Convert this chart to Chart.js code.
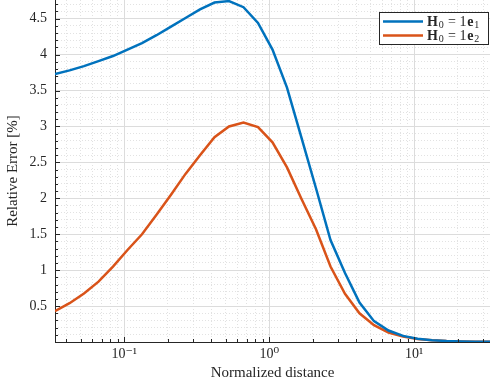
<!DOCTYPE html>
<html>
<head>
<meta charset="utf-8">
<script src="https://cdn.jsdelivr.net/npm/chart.js@4"></script>
<style>
  html, body { margin: 0; padding: 0; background: #fff; }
  #errChart { display: block; }
</style>
</head>
<body>
<canvas id="errChart" width="490" height="385"></canvas>
<script>
// distancias normalizadas (pontos da simulacao)
const distancias = [0.0333, 0.0420, 0.0528, 0.0665, 0.0837, 0.1054, 0.1327, 0.1671, 0.2103, 0.2648,
    0.3333, 0.4196, 0.5283, 0.6651, 0.8373, 1.0541, 1.327, 1.671, 2.103, 2.648,
    3.333, 4.196, 5.283, 6.651, 8.373, 10.54, 13.27, 16.71, 21.03, 26.48, 33.33];

const erroE1 = [3.73, 3.78, 3.84, 3.91, 3.98, 4.07, 4.16, 4.27, 4.39, 4.51,
    4.63, 4.725, 4.745, 4.66, 4.44, 4.07, 3.54, 2.84, 2.14, 1.42,
    0.96, 0.55, 0.29, 0.16, 0.085, 0.045, 0.025, 0.014, 0.008, 0.005, 0.003];

const erroE2 = [0.43, 0.54, 0.675, 0.84, 1.05, 1.28, 1.50, 1.77, 2.05, 2.34,
    2.60, 2.85, 3.00, 3.055, 2.99, 2.78, 2.43, 1.99, 1.57, 1.05,
    0.67, 0.40, 0.235, 0.13, 0.075, 0.042, 0.025, 0.014, 0.008, 0.005, 0.003];

const xTicks = [0.1, 1, 10];
const xTickLabels = ['10\u207B\u00B9', '10\u2070', '10\u00B9'];
const xMinorTicks = [0.04, 0.05, 0.06, 0.07, 0.08, 0.09, 0.2, 0.3, 0.4, 0.5, 0.6, 0.7, 0.8, 0.9,
    2, 3, 4, 5, 6, 7, 8, 9, 20, 30];
const yTicks = [0.5, 1, 1.5, 2, 2.5, 3, 3.5, 4, 4.5];
const yTickLabels = ['0.5', '1', '1.5', '2', '2.5', '3', '3.5', '4', '4.5'];
const yMinorTicks = [0.1, 0.2, 0.3, 0.4, 0.6, 0.7, 0.8, 0.9, 1.1, 1.2, 1.3, 1.4, 1.6, 1.7, 1.8, 1.9,
    2.1, 2.2, 2.3, 2.4, 2.6, 2.7, 2.8, 2.9, 3.1, 3.2, 3.3, 3.4, 3.6, 3.7, 3.8, 3.9,
    4.1, 4.2, 4.3, 4.4, 4.6, 4.7];

const corAzul = '#0072BD';
const corLaranja = '#D95319';
const corTexto = '#262626';
const fonteSerif = '"Liberation Serif", "DejaVu Serif", serif';

function setTicks(lista) {
    return function (scale) {
        scale.ticks = lista.map(v => ({ value: v }));
    };
}

// ticks para dentro, estilo matlab
const ticksInternos = {
    id: 'ticksInternos',
    afterDatasetsDraw(chart) {
        const ctx = chart.ctx;
        const area = chart.chartArea;
        const sx = chart.scales.x, sy = chart.scales.y;
        ctx.save();
        ctx.strokeStyle = corTexto;
        ctx.lineWidth = 1;
        ctx.beginPath();
        xTicks.forEach(v => {
            const px = Math.round(sx.getPixelForValue(v)) + 0.5;
            ctx.moveTo(px, area.bottom); ctx.lineTo(px, area.bottom - 5);
        });
        xMinorTicks.forEach(v => {
            const px = Math.round(sx.getPixelForValue(v)) + 0.5;
            ctx.moveTo(px, area.bottom); ctx.lineTo(px, area.bottom - 3);
        });
        yTicks.forEach(v => {
            const py = Math.round(sy.getPixelForValue(v)) + 0.5;
            ctx.moveTo(area.left, py); ctx.lineTo(area.left + 5, py);
        });
        yMinorTicks.forEach(v => {
            const py = Math.round(sy.getPixelForValue(v)) + 0.5;
            ctx.moveTo(area.left, py); ctx.lineTo(area.left + 3, py);
        });
        ctx.stroke();
        ctx.restore();
    }
};

// legenda com subscritos
const legendaLatex = {
    id: 'legendaLatex',
    afterDraw(chart) {
        const ctx = chart.ctx;
        const area = chart.chartArea;
        const x0 = area.right - 111, y0 = area.top + 12, w = 110, h = 33;
        ctx.save();
        ctx.fillStyle = '#fff';
        ctx.fillRect(x0, y0, w, h);
        ctx.strokeStyle = corTexto;
        ctx.lineWidth = 1;
        ctx.strokeRect(x0 + 0.5, y0 + 0.5, w - 1, h - 1);

        chart.data.datasets.forEach((ds, i) => {
            const yl = y0 + 9.5 + i * 14;
            ctx.strokeStyle = ds.borderColor;
            ctx.lineWidth = 2.5;
            ctx.beginPath();
            ctx.moveTo(x0 + 4, yl);
            ctx.lineTo(x0 + 44, yl);
            ctx.stroke();

            let tx = x0 + 48;
            const base = yl + 4.5;
            ctx.fillStyle = corTexto;
            ctx.textBaseline = 'alphabetic';
            ctx.textAlign = 'left';
            const pedacos = [
                { t: 'H', f: 'bold 14px ' + fonteSerif, dy: 0 },
                { t: '0', f: '10px ' + fonteSerif, dy: 2 },
                { t: ' = 1', f: '14px ' + fonteSerif, dy: 0 },
                { t: 'e', f: 'bold 14px ' + fonteSerif, dy: 0 },
                { t: String(i + 1), f: '10px ' + fonteSerif, dy: 2 }
            ];
            pedacos.forEach(p => {
                ctx.font = p.f;
                ctx.fillText(p.t, tx, base + p.dy);
                tx += ctx.measureText(p.t).width + 0.8;
            });
        });
        ctx.restore();
    }
};

const ctx = document.getElementById('errChart').getContext('2d');

new Chart(ctx, {
    type: 'line',
    data: {
        datasets: [
            {
                label: 'H0 = 1e1',
                data: distancias.map((d, i) => ({ x: d, y: erroE1[i] })),
                borderColor: corAzul,
                borderWidth: 2.5,
                pointRadius: 0,
                fill: false,
                tension: 0
            },
            {
                label: 'H0 = 1e2',
                data: distancias.map((d, i) => ({ x: d, y: erroE2[i] })),
                borderColor: corLaranja,
                borderWidth: 2.5,
                pointRadius: 0,
                fill: false,
                tension: 0
            }
        ]
    },
    options: {
        responsive: false,
        animation: false,
        maintainAspectRatio: false,
        layout: { padding: 0 },
        plugins: {
            legend: { display: false },
            tooltip: { enabled: false }
        },
        scales: {
            x2: {
                type: 'logarithmic',
                position: 'bottom',
                min: 1 / 30, max: 100 / 3,
                afterBuildTicks: setTicks(xMinorTicks),
                ticks: { display: false },
                border: { display: false, dash: [1, 2] },
                grid: { color: '#e2e2e2', lineWidth: 1, drawTicks: false },
                afterFit: s => { s.height = 0; s.paddingLeft = 0; s.paddingRight = 0; }
            },
            y2: {
                type: 'linear',
                position: 'left',
                min: 0, max: 4.76,
                afterBuildTicks: setTicks(yMinorTicks),
                ticks: { display: false },
                border: { display: false, dash: [1, 2] },
                grid: { color: '#e2e2e2', lineWidth: 1, drawTicks: false },
                afterFit: s => { s.width = 0; s.paddingTop = 0; s.paddingBottom = 0; }
            },
            x: {
                type: 'logarithmic',
                position: 'bottom',
                min: 1 / 30, max: 100 / 3,
                afterBuildTicks: setTicks(xTicks),
                ticks: {
                    color: corTexto,
                    font: { family: fonteSerif, size: 14 },
                    padding: 4,
                    maxRotation: 0,
                    autoSkip: false,
                    callback: function (v) {
                        const k = xTicks.indexOf(v);
                        return k >= 0 ? xTickLabels[k] : '';
                    }
                },
                border: { display: true, color: corTexto, width: 1 },
                grid: { color: '#dcdcdc', lineWidth: 1, drawTicks: false },
                title: {
                    display: true,
                    text: 'Normalized distance',
                    color: corTexto,
                    font: { family: fonteSerif, size: 15 },
                    padding: { top: 2, bottom: 3 }
                },
                afterFit: s => { s.height = 43; s.paddingLeft = 0; s.paddingRight = 0; }
            },
            y: {
                type: 'linear',
                position: 'left',
                min: 0, max: 4.76,
                afterBuildTicks: setTicks(yTicks),
                ticks: {
                    color: corTexto,
                    font: { family: fonteSerif, size: 14 },
                    padding: 8,
                    callback: function (v) {
                        const k = yTicks.indexOf(v);
                        return k >= 0 ? yTickLabels[k] : '';
                    }
                },
                border: { display: true, color: corTexto, width: 1 },
                grid: { color: '#dcdcdc', lineWidth: 1, drawTicks: false },
                title: {
                    display: true,
                    text: 'Relative Error [%]',
                    color: corTexto,
                    font: { family: fonteSerif, size: 15 },
                    padding: { top: 4, bottom: 4 }
                },
                afterFit: s => { s.width = 55; s.paddingTop = 0; s.paddingBottom = 0; }
            }
        }
    },
    plugins: [ticksInternos, legendaLatex]
});
</script>
</body>
</html>
